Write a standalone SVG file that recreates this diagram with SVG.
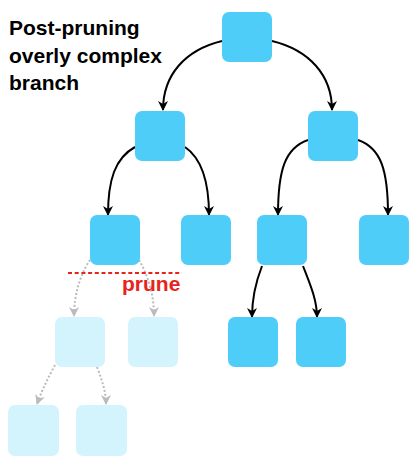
<svg xmlns="http://www.w3.org/2000/svg" width="419" height="467" viewBox="0 0 419 467">
<style>
.n{fill:#4ECDF9}
.p{fill:#D3F3FD}
.e{fill:none;stroke:#000;stroke-width:2;marker-end:url(#ah)}
.d{fill:none;stroke:#BBBBBB;stroke-width:2;stroke-dasharray:2 2;marker-end:url(#ag)}
.t{font-family:"Liberation Sans",Arial,sans-serif;font-weight:bold;font-size:21px;fill:#000}
</style>
<defs>
<marker id="ah" viewBox="0 0 10 10" refX="9" refY="5" markerWidth="10" markerHeight="10" markerUnits="userSpaceOnUse" orient="auto">
<path d="M0,0 L10,5 L0,10 L3,5 Z" fill="#000"/>
</marker>
<marker id="ag" viewBox="0 0 10 10" refX="9" refY="5" markerWidth="10" markerHeight="10" markerUnits="userSpaceOnUse" orient="auto">
<path d="M0,0 L10,5 L0,10 L3,5 Z" fill="#BBBBBB"/>
</marker>
</defs>
<rect width="419" height="467" fill="#fff"/>
<g id="title">
<text class="t" x="9" y="35">Post-pruning</text>
<text class="t" x="9" y="62.5">overly complex</text>
<text class="t" x="9" y="90">branch</text>
</g>
<g id="connectors">
<path class="e" d="M222,41 C185,50 163,75 163,110"/>
<path class="e" d="M272,41 C309,50 332,75 332,110"/>
<path class="e" d="M135,147 C115,158 108,180 108,215"/>
<path class="e" d="M185,147 C201,158 209,180 209,215"/>
<path class="e" d="M308,140 C285,148 278,170 278,215"/>
<path class="e" d="M358,140 C381,148 388,170 388,215"/>
<path class="e" d="M262,266 C255,284 252,300 252,317"/>
<path class="e" d="M303,266 C310,284 317,300 317,317"/>
<path class="d" d="M90,260 C80,275 74,295 74,316"/>
<path class="d" d="M139,260 C148,275 154,295 154,316"/>
<path class="d" d="M55,365 C48,378 42,390 37,404"/>
<path class="d" d="M97,367 C102,380 106,392 106,404"/>
</g>
<g id="prune">
<line x1="68" y1="273" x2="182" y2="273" stroke="#E8231A" stroke-width="2" stroke-dasharray="4 2.7"/>
<text x="122" y="291" font-family="Liberation Sans, Arial, sans-serif" font-weight="bold" font-size="21" fill="#E8231A">prune</text>
</g>
<g id="root"><rect class="n" x="222" y="12" width="50" height="50" rx="7"/></g>
<g id="n1L"><rect class="n" x="135" y="111" width="50" height="50" rx="7"/></g>
<g id="n1R"><rect class="n" x="308" y="111" width="50" height="50" rx="7"/></g>
<g id="n2a"><rect class="n" x="90" y="215" width="50" height="50" rx="7"/></g>
<g id="n2b"><rect class="n" x="181" y="215" width="50" height="50" rx="7"/></g>
<g id="n2c"><rect class="n" x="257" y="215" width="50" height="50" rx="7"/></g>
<g id="n2d"><rect class="n" x="359" y="215" width="50" height="50" rx="7"/></g>
<g id="n3c"><rect class="n" x="228" y="317" width="50" height="50" rx="7"/></g>
<g id="n3d"><rect class="n" x="296" y="317" width="50" height="50" rx="7"/></g>
<g id="p3a"><rect class="p" x="55" y="317" width="50" height="50" rx="7"/></g>
<g id="p3b"><rect class="p" x="128" y="317" width="50" height="50" rx="7"/></g>
<g id="p4a"><rect class="p" x="8" y="405" width="51" height="51" rx="7"/></g>
<g id="p4b"><rect class="p" x="76" y="405" width="51" height="51" rx="7"/></g>
</svg>
